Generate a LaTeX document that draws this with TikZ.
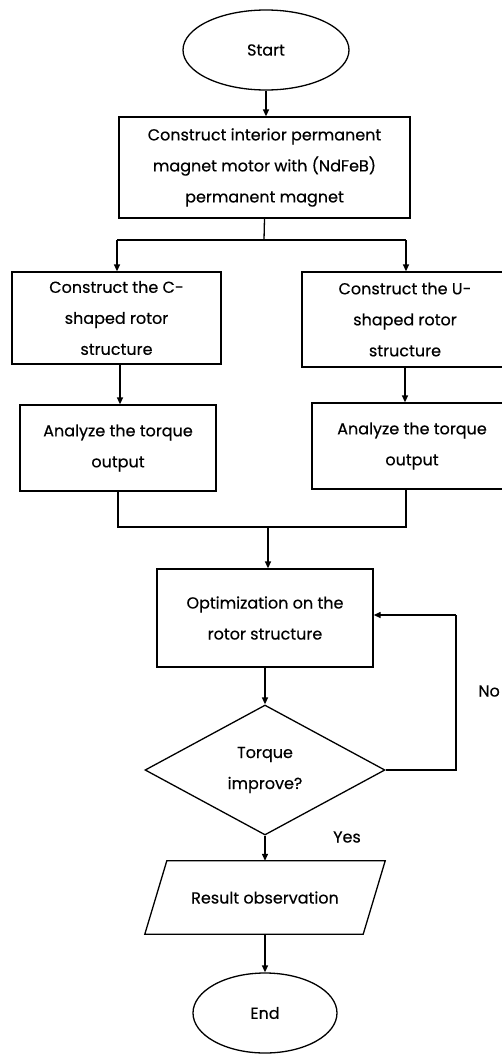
\documentclass[tikz,border=0pt]{standalone}
\usepackage{fontspec}
\setmainfont{Poppins}[FakeBold=0.4]
\usetikzlibrary{shapes.geometric,arrows.meta}
\begin{document}
\begin{tikzpicture}[x=1pt,y=-1pt,
  every node/.style={font=\fontsize{16}{31}\selectfont, align=center, inner sep=0pt},
  base/.style={draw, line width=1.3pt},
  procbox/.style={base, rectangle},
  termshape/.style={base, ellipse},
  decshape/.style={base, diamond},
  conn/.style={line width=1.3pt},
  arr/.style={conn, -{Triangle[width=6pt,length=7pt]}},
  lbl/.style={font=\fontsize{16}{18}\selectfont}
]
\useasboundingbox (0,0) rectangle (502,1055);

\node[termshape, minimum width=166pt, minimum height=80pt] (start) at (266,50) {Start};
\node[procbox, minimum width=291pt, minimum height=101pt] (box1) at (264.5,167.5)
  {Construct interior permanent\\magnet motor with (NdFeB)\\permanent magnet};
\node[procbox, minimum width=209pt, minimum height=92pt] (boxC) at (116.5,318)
  {Construct the C-\\shaped rotor\\structure};
\node[procbox, minimum width=206pt, minimum height=95pt] (boxU) at (405,319.5)
  {Construct the U-\\shaped rotor\\structure};
\node[procbox, minimum width=196pt, minimum height=86pt] (anC) at (118,448)
  {Analyze the torque\\output};
\node[procbox, minimum width=200pt, minimum height=86pt] (anU) at (412,446)
  {Analyze the torque\\output};
\node[procbox, minimum width=216pt, minimum height=98pt] (opt) at (265,618)
  {Optimization on the\\rotor structure};
\node[decshape, minimum width=240pt, minimum height=130pt, aspect=1.846] (dia) at (265,770)
  {Torque\\improve?};
\node[minimum width=218pt, minimum height=73pt] (res) at (265,897.5) {Result observation};
\draw[base] ([xshift=11pt]res.north west) -- ([xshift=11pt]res.north east)
  -- ([xshift=-11pt]res.south east) -- ([xshift=-11pt]res.south west) -- cycle;
\node[termshape, minimum width=144pt, minimum height=80pt] (end) at (265,1013) {End};

\node[lbl, anchor=east] (nolbl) at (500,691) {No};
\node[lbl] (yeslbl) at (347,837) {Yes};

\coordinate (split) at (264,240);
\coordinate (splitL) at (117,240);
\coordinate (splitR) at (406,240);
\coordinate (colC) at (120,364);
\coordinate (mergeL) at (118,527);
\coordinate (mergeR) at (406,527);
\coordinate (mergeM) at (268,527);
\coordinate (loopA) at (456,770);
\coordinate (loopB) at (456,615);

\draw[arr] (start.south) -- (start.south |- box1.north);
\draw[conn] (box1.south) -- (split);
\draw[conn] (splitL) -- (splitR);
\draw[arr] (splitL) -- (splitL |- boxC.north);
\draw[arr] (splitR) -- (splitR |- boxU.north);
\draw[arr] (colC |- boxC.south) -- (colC |- anC.north);
\draw[arr] (boxU.south) -- (boxU.south |- anU.north);
\draw[conn] (mergeL |- anC.south) -- (mergeL) -- (mergeR) -- (mergeR |- anU.south);
\draw[arr] (mergeM) -- (mergeM |- opt.north);
\draw[arr] (opt.south) -- (dia.north);
\draw[conn] (dia.east) -- (loopA) -- (loopB);
\draw[arr] (loopB) -- (loopB -| opt.east);
\draw[arr] (dia.south) -- (res.north);
\draw[arr] (res.south) -- (end.north);
\end{tikzpicture}
\end{document}
